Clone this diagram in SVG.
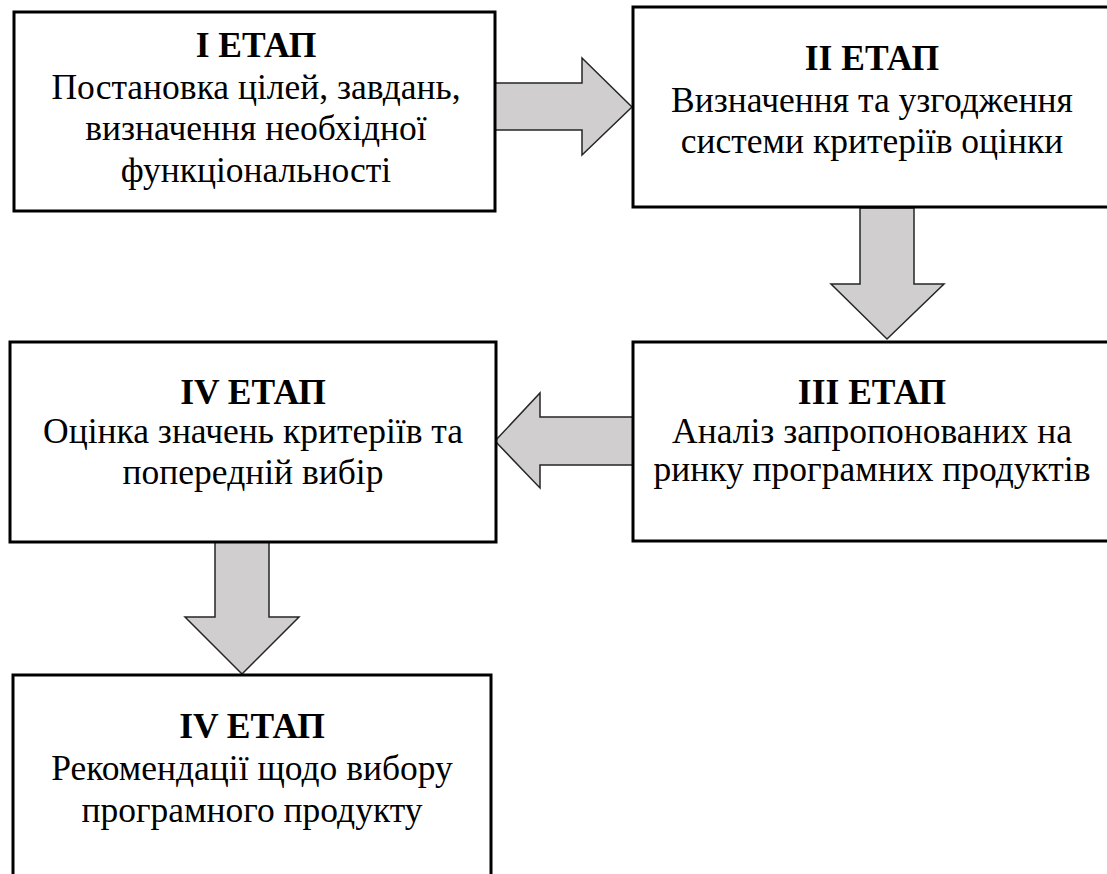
<svg xmlns="http://www.w3.org/2000/svg" width="1107" height="874" viewBox="0 0 1107 874">
<style>
.box{fill:#fff;stroke:#000;stroke-width:3}
.arr{fill:#d0cece;stroke:#262626;stroke-width:1.5;stroke-linejoin:miter}
text{font-family:'Liberation Serif',Tinos,'Times New Roman',serif;font-size:35.5px;fill:#000;text-anchor:middle}
.t{font-weight:bold}
</style>
<rect width="1107" height="874" fill="#fff"/>
<g id="connectors">
<polygon class="arr" points="495,83 582,83 582,58 632,107 582,155 582,130 495,130"/>
<polygon class="arr" points="860,208 914,208 914,284 944,284 887,339 831,284 860,284"/>
<polygon class="arr" points="633,417 540,417 540,393 495,441 540,488 540,465 633,465"/>
<polygon class="arr" points="215,542 269,542 269,617 299,617 242,674 185,617 215,617"/>
</g>
<g id="stage1">
<rect class="box" x="14" y="12" width="481" height="199"/>
<text class="t" x="256" y="57">І ЕТАП</text>
<text x="256" y="99">Постановка цілей, завдань,</text>
<text x="256" y="140">визначення необхідної</text>
<text x="256" y="182">функціональності</text>
</g>
<g id="stage2">
<rect class="box" x="633" y="7" width="482" height="200"/>
<text class="t" x="872" y="70">ІІ ЕТАП</text>
<text x="872" y="112">Визначення та узгодження</text>
<text x="872" y="153">системи критеріїв оцінки</text>
</g>
<g id="stage3">
<rect class="box" x="633" y="342" width="482" height="199"/>
<text class="t" x="872" y="404">ІІІ ЕТАП</text>
<text x="872" y="443">Аналіз запропонованих на</text>
<text x="872" y="481">ринку програмних продуктів</text>
</g>
<g id="stage4">
<rect class="box" x="10" y="342" width="486" height="200"/>
<text class="t" x="253" y="404">IV ЕТАП</text>
<text x="253" y="443">Оцінка значень критеріїв та</text>
<text x="253" y="484">попередній вибір</text>
</g>
<g id="stage5">
<rect class="box" x="13" y="675" width="478" height="220"/>
<text class="t" x="252" y="738">IV ЕТАП</text>
<text x="252" y="780">Рекомендації щодо вибору</text>
<text x="252" y="822">програмного продукту</text>
</g>
</svg>
